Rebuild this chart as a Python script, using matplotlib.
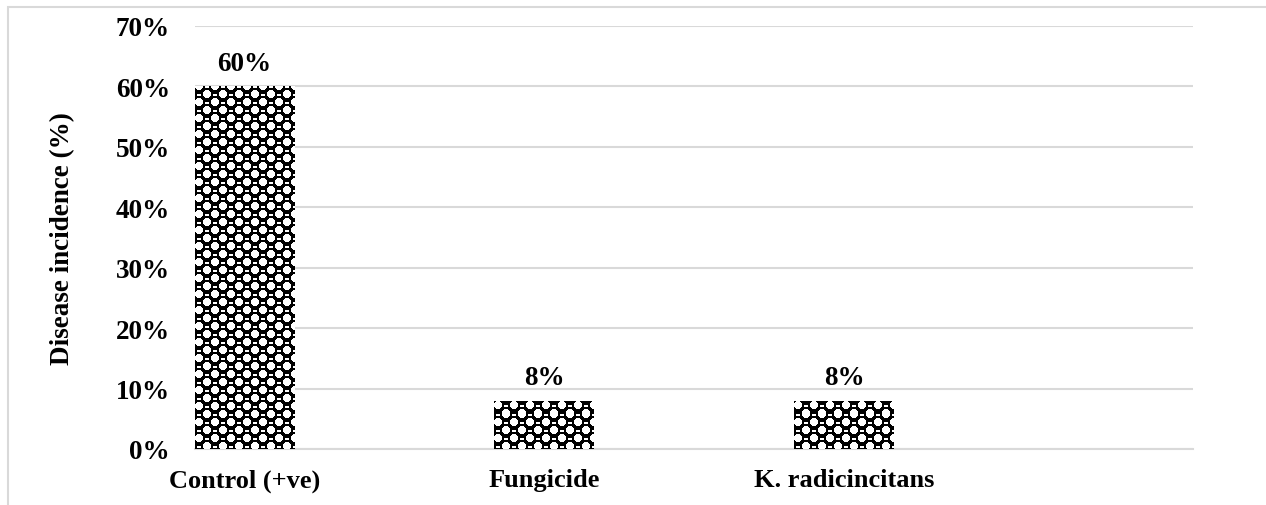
import numpy as np
import matplotlib
matplotlib.use('Agg')
import matplotlib.pyplot as plt
from matplotlib.patches import Rectangle

categories = ['Control (+ve)', 'Fungicide', 'K. radicincitans']
incidence = [60, 8, 8]
yticks = [0, 10, 20, 30, 40, 50, 60, 70]

plt.rcParams['font.family'] = ['Liberation Serif', 'DejaVu Serif']
plt.rcParams['font.weight'] = 'bold'


def make_tile(w, h, cell=8):
    # checkerboard of black dots with a small white dash, like Excel's pattern fill
    yy, xx = np.mgrid[0:h, 0:w]
    cx = xx // cell
    cy = yy // cell
    img = np.zeros((h, w))
    fx = (xx % cell) - (cell - 1) / 2
    fy = (yy % cell) - (cell - 1) / 2
    r = np.sqrt(fx ** 2 + fy ** 2)
    black = (cx + cy) % 2 == 0
    # white cells are rounded white spots, black cells stay black
    img[(~black) & (r <= cell * 0.5)] = 1.0
    dash = black & (np.abs(fx) <= 1.5) & (fy >= 0.5) & (fy <= 1.5)
    img[dash] = 1.0
    return img


fig = plt.figure(figsize=(12.66, 5.06), dpi=100)
ax = fig.add_axes([195 / 1266, 56 / 506, 998 / 1266, 423 / 506])

x = np.arange(len(categories))
bars = ax.bar(x, incidence, width=1 / 3, color='white', edgecolor='none', zorder=2)

px_w = int(round(998 / 3.328 / 3))
tile = make_tile(px_w, 423)
for b in bars:
    im = ax.imshow(tile, cmap='gray', vmin=0, vmax=1, interpolation='nearest',
                   origin='upper',
                   extent=[b.get_x(), b.get_x() + b.get_width(), 0, 70],
                   aspect='auto', zorder=3)
    im.set_clip_path(b)

ax.set_yticks(yticks)
ax.set_yticklabels([f'{v}%' for v in yticks], fontsize=19.5, fontweight='bold')
ax.set_xticks(x)
ax.set_xticklabels(categories, fontsize=19, fontweight='bold')
ax.tick_params(axis='both', length=0)
ax.tick_params(axis='y', pad=18)
ax.tick_params(axis='x', pad=14)
ax.grid(axis='y', color='#d9d9d9', linewidth=1.5, zorder=0)
ax.set_axisbelow(True)
for s in ['top', 'right', 'left']:
    ax.spines[s].set_visible(False)
ax.spines['bottom'].set_color('#d9d9d9')
ax.spines['bottom'].set_linewidth(1.5)

for xi, v in zip(x, incidence):
    ax.text(xi, v + 1.8, f'{v}%', ha='center', va='bottom', fontsize=19.5, fontweight='bold')

ax.set_ylabel('Disease incidence (%)', fontsize=19.5, fontweight='bold')
ax.yaxis.set_label_coords(-120 / 998, 0.5)
ax.set_xlim(-0.165, 3.163)
ax.set_ylim(0, 70)

fig.patches.append(Rectangle((8 / 1266, -0.1), 1.1, (506 - 8) / 506 + 0.1,
                             transform=fig.transFigure, fill=False,
                             edgecolor='#d9d9d9', linewidth=1.5))

fig.savefig('out.png', dpi=100)
